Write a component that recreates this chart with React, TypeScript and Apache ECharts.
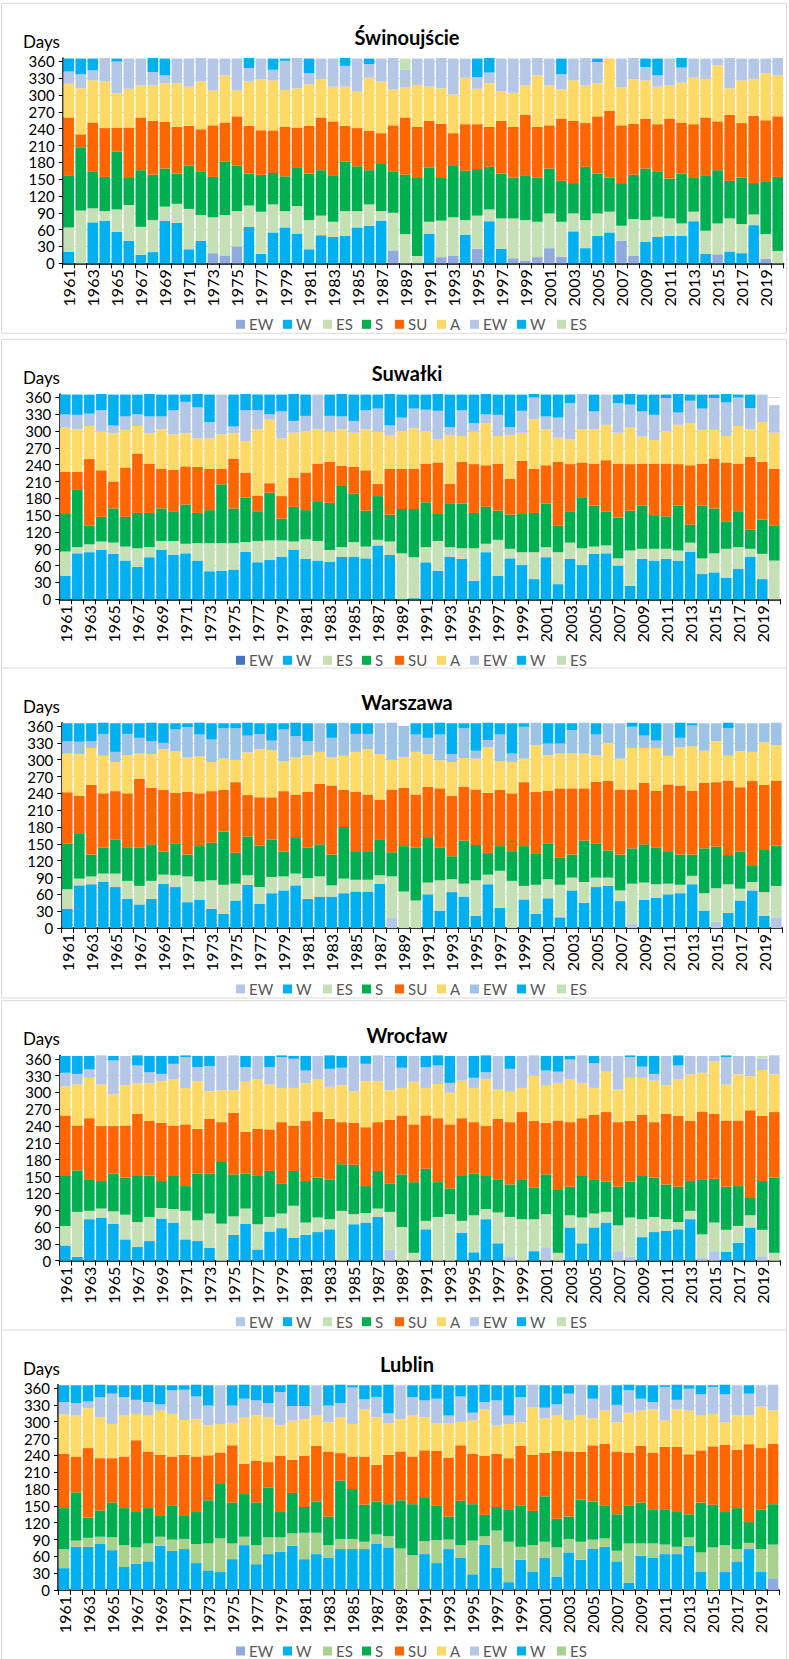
import React, { useEffect, useRef } from "react";
import * as echarts from "echarts";

const years = [
  "1961","1962","1963","1964","1965","1966","1967","1968","1969","1970",
  "1971","1972","1973","1974","1975","1976","1977","1978","1979","1980",
  "1981","1982","1983","1984","1985","1986","1987","1988","1989","1990",
  "1991","1992","1993","1994","1995","1996","1997","1998","1999","2000",
  "2001","2002","2003","2004","2005","2006","2007","2008","2009","2010",
  "2011","2012","2013","2014","2015","2016","2017","2018","2019","2020",
];

const seasonNames = ["EW", "W", "ES", "S", "SU", "A", "EW", "W", "ES"];
const stationNames = ["Świnoujście", "Suwałki", "Warszawa", "Wrocław", "Lublin"];
const yTicks = [0, 30, 60, 90, 120, 150, 180, 210, 240, 270, 300, 330, 360];

// Each row: day of year on which EW, W, ES, S, SU, A, EW, W, ES end (cumulative)
const swinoujscieEnds = [
  [0,20,64,157,260,320,342,365,365],[0,0,94,207,230,312,337,365,365],[0,73,98,163,251,326,344,365,365],
  [0,76,93,154,241,324,366,366,366],[0,56,96,199,242,303,360,365,365],[0,40,104,152,242,311,365,365,365],
  [0,15,65,166,260,317,365,365,365],[0,20,77,158,254,317,341,366,366],[0,76,101,169,252,321,335,365,365],
  [0,72,106,160,243,321,365,365,365],[0,25,97,174,245,315,365,365,365],[0,40,86,163,239,324,366,366,366],
  [18,18,82,154,246,308,365,365,365],[14,14,86,181,251,335,365,365,365],[30,30,93,174,262,308,365,365,365],
  [0,65,103,160,245,324,348,366,366],[0,17,92,158,237,328,365,365,365],[0,55,105,161,237,326,345,365,365],
  [0,64,93,155,243,309,361,365,365],[0,53,102,170,242,312,366,366,366],[0,25,77,160,245,319,339,365,365],
  [0,50,85,166,260,329,365,365,365],[0,47,74,157,253,315,365,365,365],[0,49,93,181,245,315,352,366,366],
  [0,64,93,173,241,306,365,365,365],[0,67,105,166,236,331,355,365,365],[0,76,93,177,232,324,365,365,365],
  [23,23,90,163,246,310,366,366,366],[0,0,52,158,260,314,345,345,365],[0,0,13,152,243,318,365,365,365],
  [0,53,74,171,254,315,365,365,365],[11,11,76,152,249,312,366,366,366],[13,13,82,175,232,301,365,365,365],
  [0,51,77,165,248,331,365,365,365],[26,26,85,168,248,311,332,365,365],[0,75,96,172,243,321,340,366,366],
  [0,26,80,160,254,307,365,365,365],[9,9,80,153,243,304,365,365,365],[5,5,77,157,265,317,365,365,365],
  [11,11,74,153,243,335,366,366,366],[27,27,89,169,246,317,365,365,365],[12,12,74,147,258,310,337,365,365],
  [0,57,89,143,254,326,365,365,365],[0,27,77,172,250,317,366,366,366],[0,49,89,160,262,321,359,365,365],
  [0,55,92,153,272,365,365,365,365],[40,40,67,143,246,314,365,365,365],[13,13,79,158,249,328,366,366,366],
  [0,38,77,169,258,326,350,365,365],[0,47,83,163,248,315,335,365,365],[0,49,80,151,258,317,365,365,365],
  [0,49,71,160,251,322,349,366,366],[0,75,92,152,248,331,365,365,365],[0,17,58,157,260,329,365,365,365],
  [16,16,71,166,253,353,365,365,365],[0,21,80,147,265,312,366,366,366],[0,18,70,153,250,326,365,365,365],
  [0,68,87,143,263,329,365,365,365],[8,8,52,145,255,339,365,365,365],[0,0,22,154,262,335,366,366,366],
];

const suwalkiEnds = [
  [0,42,85,152,227,306,330,365,365],[0,82,93,195,227,303,329,365,365],[0,84,98,131,250,309,331,365,365],
  [0,88,103,147,230,299,337,366,366],[0,81,101,162,210,296,310,365,365],[0,69,94,147,235,302,326,365,365],
  [0,58,91,154,260,309,330,365,365],[0,75,93,154,242,296,326,366,366],[0,88,104,162,233,303,326,365,365],
  [0,79,104,157,231,294,337,365,365],[0,82,99,169,237,296,352,365,365],[0,69,100,154,236,287,342,366,366],
  [0,50,100,159,233,287,316,365,365],[0,51,100,205,233,294,365,365,365],[0,53,100,162,251,296,308,365,365],
  [0,85,102,181,226,282,337,366,366],[0,66,104,157,185,303,337,365,365],[0,70,105,190,207,320,330,365,365],
  [0,76,105,144,184,287,335,365,365],[0,88,103,165,217,297,318,366,366],[0,72,107,159,226,300,327,365,365],
  [0,69,104,175,242,303,365,365,365],[0,67,88,172,245,299,327,365,365],[0,76,93,202,238,303,326,366,366],
  [0,76,102,188,236,297,318,365,365],[0,73,94,158,230,303,337,365,365],[0,96,106,184,206,299,340,365,365],
  [0,79,103,151,233,293,310,366,366],[0,0,82,161,233,300,324,365,365],[0,2,75,161,233,305,340,365,365],
  [0,66,93,173,242,300,338,365,365],[0,51,104,152,244,285,336,366,366],[0,76,93,170,206,293,307,365,365],
  [0,72,91,171,245,291,337,365,365],[0,33,91,154,241,299,314,365,365],[0,84,99,165,239,314,330,366,366],
  [0,42,106,158,242,291,329,365,365],[0,73,90,151,215,293,307,365,365],[0,61,84,152,247,297,336,365,365],
  [0,36,84,154,233,321,360,366,366],[0,75,93,171,239,303,326,365,365],[0,27,84,131,245,288,324,365,365],
  [0,72,101,157,241,285,350,365,365],[0,61,91,182,244,303,366,366,366],[0,81,94,167,242,303,335,365,365],
  [0,82,96,156,248,311,365,365,365],[0,60,73,146,242,297,350,365,365],[0,24,87,158,241,306,347,366,366],
  [0,72,90,167,242,290,335,365,365],[0,69,90,150,242,284,329,365,365],[0,72,90,148,242,300,359,365,365],
  [0,69,87,167,241,311,333,366,366],[0,85,101,133,239,314,354,365,365],[0,45,73,167,242,302,340,365,365],
  [0,48,82,162,251,302,359,365,365],[0,38,90,139,244,291,351,366,366],[0,54,93,157,242,309,360,365,365],
  [0,76,90,124,254,303,341,365,365],[0,36,81,142,245,316,365,365,365],[0,0,69,131,233,297,346,346,346],
];

const warszawaEnds = [
  [0,34,69,150,242,311,333,365,365],[0,76,88,169,236,310,332,365,365],[0,78,92,131,255,321,333,365,365],
  [0,82,97,143,240,307,346,366,366],[0,73,97,158,244,296,314,365,365],[0,52,84,144,240,308,346,365,365],
  [0,42,75,143,266,311,339,365,365],[0,52,84,149,250,310,333,366,366],[0,79,95,136,246,319,330,365,365],
  [0,73,94,150,241,315,354,365,365],[0,46,92,131,243,304,358,365,365],[0,50,83,146,240,306,345,366,366],
  [0,34,85,152,244,296,336,365,365],[0,25,77,172,246,302,356,365,365],[0,49,79,134,260,300,356,365,365],
  [0,77,94,163,237,313,343,366,366],[0,43,73,147,233,319,346,365,365],[0,62,91,158,233,317,334,365,365],
  [0,67,92,136,244,297,354,365,365],[0,76,97,162,238,304,342,366,366],[0,52,89,143,243,308,333,365,365],
  [0,56,92,149,257,314,365,365,365],[0,56,76,131,254,304,339,365,365],[0,62,88,180,246,307,366,366,366],
  [0,65,86,137,243,314,346,365,365],[0,65,86,137,238,319,346,365,365],[0,79,94,157,229,310,365,365,365],
  [19,19,92,135,247,300,366,366,366],[0,0,65,146,250,305,360,360,360],[0,0,49,143,238,314,345,365,365],
  [0,60,81,162,252,310,339,365,365],[0,31,85,143,249,299,345,366,366],[0,64,87,128,236,296,310,365,365],
  [0,56,79,156,252,303,356,365,365],[0,22,85,148,247,302,316,365,365],[0,78,95,134,241,322,335,366,366],
  [0,36,102,146,246,297,345,365,365],[0,0,84,137,240,296,311,365,365],[0,51,75,146,260,302,359,365,365],
  [0,25,77,132,243,326,366,366,366],[0,53,87,151,245,308,329,365,365],[0,19,77,125,249,311,329,365,365],
  [0,67,90,131,249,311,353,365,365],[0,45,82,156,249,311,366,366,366],[0,73,90,150,261,308,345,365,365],
  [0,75,90,138,262,330,365,365,365],[0,48,67,131,247,302,365,365,365],[7,7,79,142,247,321,359,366,366],
  [0,50,81,149,259,321,343,365,365],[0,54,78,143,245,321,334,365,365],[0,60,79,137,256,307,365,365,365],
  [0,62,77,131,254,322,339,366,366],[0,78,93,131,245,324,361,365,365],[0,31,62,142,259,316,365,365,365],
  [11,11,71,145,260,333,365,365,365],[0,27,78,130,263,307,356,366,366],[0,49,70,136,251,315,365,365,365],
  [0,67,82,112,262,314,365,365,365],[0,22,64,139,255,331,365,365,365],[19,19,75,147,263,326,366,366,366],
];

const wroclawEnds = [
  [0,27,62,151,259,311,335,365,365],[0,7,87,161,241,314,333,365,365],[0,74,89,144,254,326,341,365,365],
  [0,77,93,142,240,314,366,366,366],[0,66,88,155,240,297,357,365,365],[0,38,82,148,241,313,365,365,365],
  [0,25,69,151,262,316,348,366,366],[0,35,78,152,249,316,336,365,365],[0,75,94,142,246,320,333,365,365],
  [0,68,92,151,241,323,351,365,365],[0,38,89,133,243,308,363,366,366],[0,35,72,155,235,320,345,365,365],
  [0,23,84,155,253,302,347,365,365],[0,0,66,176,247,304,365,365,365],[0,46,79,154,264,304,366,366,366],
  [0,66,93,155,230,319,345,365,365],[0,20,65,151,235,323,365,365,365],[0,52,78,160,234,314,345,365,365],
  [0,58,84,138,247,308,363,366,366],[0,41,98,160,241,308,360,365,365],[0,46,68,142,249,316,339,365,365],
  [0,51,77,148,265,323,365,365,365],[0,56,74,145,253,310,342,366,366],[0,0,89,172,247,313,344,365,365],
  [0,65,83,171,246,302,365,365,365],[0,68,85,133,238,320,351,365,365],[0,78,93,160,247,320,366,366,366],
  [20,20,87,138,251,304,364,365,365],[0,0,60,154,259,308,344,365,365],[0,0,14,140,243,319,365,365,365],
  [0,56,71,164,259,308,345,365,365],[0,0,78,140,254,315,348,366,366],[0,0,83,129,243,300,317,365,365],
  [0,50,71,151,254,321,365,365,365],[0,15,81,155,247,308,326,365,365],[0,74,92,151,240,323,336,366,366],
  [0,31,86,144,253,305,365,365,365],[8,8,78,136,247,301,342,365,365],[0,0,74,144,265,308,365,365,365],
  [0,17,74,130,249,330,366,366,366],[24,24,83,154,246,312,339,365,365],[0,0,14,126,250,317,337,365,365],
  [0,59,81,132,247,323,359,365,365],[0,31,77,151,254,317,366,366,366],[0,59,84,144,260,308,352,365,365],
  [0,68,87,141,265,337,365,365,365],[17,17,63,132,247,305,365,365,365],[7,7,77,141,249,326,363,366,366],
  [0,42,74,151,260,326,346,365,365],[0,51,78,148,247,321,333,365,365],[0,53,74,136,262,313,365,365,365],
  [0,56,69,132,258,323,348,366,366],[0,74,89,142,249,332,365,365,365],[6,6,47,144,266,335,365,365,365],
  [17,17,68,146,262,355,365,365,365],[0,16,55,132,250,314,363,366,366],[0,32,62,133,250,332,365,365,365],
  [0,59,81,112,268,329,365,365,365],[8,8,55,142,258,340,360,360,365],[0,0,14,148,265,332,366,366,366],
];

const lublinEnds = [
  [0,39,73,146,243,313,335,365,365],[0,77,88,174,238,311,333,365,365],[0,77,93,129,253,324,336,365,365],
  [0,82,95,142,235,308,344,366,366],[0,71,94,156,235,296,350,365,365],[0,41,80,146,238,311,344,365,365],
  [0,47,76,139,267,314,339,365,365],[0,51,83,146,247,312,335,366,366],[0,79,95,132,241,320,331,365,365],
  [0,70,90,150,238,314,356,365,365],[0,73,91,132,241,303,357,365,365],[0,48,82,139,238,305,345,366,366],
  [0,35,83,160,240,294,329,365,365],[0,32,92,189,245,296,365,365,365],[0,55,83,156,258,298,329,365,365],
  [0,80,95,171,225,307,341,366,366],[0,46,80,156,230,312,338,365,365],[0,64,94,183,228,308,333,365,365],
  [0,68,94,139,239,294,353,365,365],[0,79,101,173,232,302,328,366,366],[0,55,102,148,239,305,328,365,365],
  [0,64,102,158,257,311,365,365,365],[0,58,80,131,247,299,329,365,365],[0,73,91,195,244,308,333,366,366],
  [0,73,91,180,238,296,361,365,365],[0,73,86,152,238,322,340,365,365],[0,83,99,158,223,308,344,365,365],
  [0,76,96,153,241,297,315,366,366],[0,0,74,160,247,305,365,365,365],[0,0,62,153,238,312,344,365,365],
  [0,64,87,164,249,308,338,365,365],[0,48,89,150,248,297,341,366,366],[0,73,90,131,236,297,311,365,365],
  [0,58,80,159,258,300,345,365,365],[0,28,88,153,243,302,316,365,365],[0,81,96,134,239,322,335,366,366],
  [0,40,106,148,243,293,338,365,365],[0,14,86,144,235,296,311,365,365],[0,54,77,150,257,299,344,365,365],
  [0,33,80,141,241,326,366,366,366],[0,57,86,167,245,306,325,365,365],[0,24,76,127,248,312,331,365,365],
  [0,67,91,131,247,303,350,365,365],[0,54,86,161,246,311,366,366,366],[0,74,90,158,258,306,341,365,365],
  [0,77,92,150,261,320,365,365,365],[0,51,70,135,247,299,330,365,365],[0,13,83,150,245,316,356,366,366],
  [0,61,83,156,257,320,341,365,365],[0,58,83,144,245,322,335,365,365],[0,64,81,144,255,302,362,365,365],
  [0,64,77,139,255,322,339,366,366],[0,79,94,135,242,320,359,365,365],[0,33,67,156,249,312,349,365,365],
  [0,0,76,152,256,314,362,365,365],[0,32,80,139,259,299,349,366,366],[0,51,73,146,250,311,365,365,365],
  [0,73,84,121,260,311,350,365,365],[0,32,73,143,253,327,365,365,365],[21,21,81,153,261,320,366,366,366],
];

const stationEnds = [swinoujscieEnds, suwalkiEnds, warszawaEnds, wroclawEnds, lublinEnds];

// colours per panel for the 9 stacked parts
const panelColors = [
  ["#8FAADC", "#00B0F0", "#C5E0B4", "#00B050", "#FF6600", "#FFD966", "#B4C7E7", "#00B0F0", "#C5E0B4"],
  ["#4472C4", "#00B0F0", "#C5E0B4", "#00B050", "#FF6600", "#FFD966", "#B4C7E7", "#00B0F0", "#C5E0B4"],
  ["#B4C7E7", "#00B0F0", "#C5E0B4", "#00B050", "#FF6600", "#FFD966", "#9DC3E6", "#00B0F0", "#C5E0B4"],
  ["#B4C7E7", "#00B0F0", "#C5E0B4", "#00B050", "#FF6600", "#FFD966", "#B4C7E7", "#00B0F0", "#C5E0B4"],
  ["#8FAADC", "#00B0F0", "#A9D18E", "#00B050", "#FF6600", "#FFD966", "#B4C7E7", "#00B0F0", "#A9D18E"],
];

// layout (pixels)
const zeroY = [263.3, 599.3, 928, 1260.7, 1590];
const gridLeft = [62.7, 59.3, 61.3, 59.3, 58];
const plotHeight = 205.3;
const plotWidth = 721;
const legendX = [236, 283, 323, 362, 395, 437, 470, 517, 557];
const FONT = "Lato";

export default function App() {
  const ref = useRef<HTMLDivElement>(null);

  useEffect(() => {
    document.body.style.margin = "0";
    if (!ref.current) return;
    const chart = echarts.init(ref.current, undefined, { renderer: "svg" });

    const grids: any[] = [];
    const xAxes: any[] = [];
    const yAxes: any[] = [];
    const series: any[] = [];
    const graphics: any[] = [];

    stationEnds.forEach((ends, p) => {
      const z = zeroY[p];
      grids.push({ left: gridLeft[p], top: z - plotHeight, width: plotWidth, height: plotHeight });
      xAxes.push({
        type: "category",
        gridIndex: p,
        data: years,
        axisLine: { lineStyle: { color: "#000", width: 1.5 } },
        axisTick: { show: true, interval: 0, length: 5, lineStyle: { color: "#000" } },
        axisLabel: {
          interval: 1,
          rotate: 90,
          fontFamily: FONT,
          fontSize: 16,
          color: "#000",
          margin: 6,
        },
      });
      yAxes.push({
        type: "value",
        gridIndex: p,
        min: 0,
        max: 366,
        interval: 30,
        axisLine: { show: true, lineStyle: { color: "#000", width: 1.5 } },
        axisTick: { show: true, length: 4, lineStyle: { color: "#000" } },
        splitLine: { showMaxLine: false, lineStyle: { color: "#D9D9D9" } },
        axisLabel: {
          fontFamily: FONT,
          fontSize: 15,
          color: "#000",
          margin: 8,
          showMaxLabel: false,
          formatter: (v: number) => (yTicks.indexOf(v) >= 0 ? String(v) : ""),
        },
      });
      seasonNames.forEach((name, s) => {
        series.push({
          type: "bar",
          name,
          stack: "st" + p,
          xAxisIndex: p,
          yAxisIndex: p,
          barCategoryGap: "12%",
          itemStyle: { color: panelColors[p][s] },
          data: ends.map((r) => r[s] - (s > 0 ? r[s - 1] : 0)),
        });
      });

      // panel frame
      graphics.push({
        type: "rect",
        z: -10,
        shape: { x: 1.5, y: z - 260, width: 785, height: 330 },
        style: { fill: "#fff", stroke: "#D9D9D9", lineWidth: 1 },
      });
      // title
      graphics.push({
        type: "text",
        x: 407,
        y: z - 226,
        style: {
          text: stationNames[p],
          font: `bold 20px ${FONT}`,
          fill: "#000",
          align: "center",
          verticalAlign: "middle",
        },
      });
      // Days
      graphics.push({
        type: "text",
        x: 23,
        y: z - 222,
        style: { text: "Days", font: `17px ${FONT}`, fill: "#000", align: "left", verticalAlign: "middle" },
      });
      // legend
      seasonNames.forEach((name, s) => {
        graphics.push({
          type: "rect",
          shape: { x: legendX[s], y: z + 61 - 4.5, width: 9, height: 9 },
          style: { fill: panelColors[p][s] },
        });
        graphics.push({
          type: "text",
          x: legendX[s] + 13,
          y: z + 61,
          style: { text: name, font: `15px ${FONT}`, fill: "#595959", align: "left", verticalAlign: "middle" },
        });
      });
    });

    chart.setOption({
      animation: false,
      backgroundColor: "#fff",
      grid: grids,
      xAxis: xAxes,
      yAxis: yAxes,
      series,
      graphic: graphics,
    });

    return () => chart.dispose();
  }, []);

  return <div ref={ref} style={{ width: 789, height: 1659 }} />;
}
